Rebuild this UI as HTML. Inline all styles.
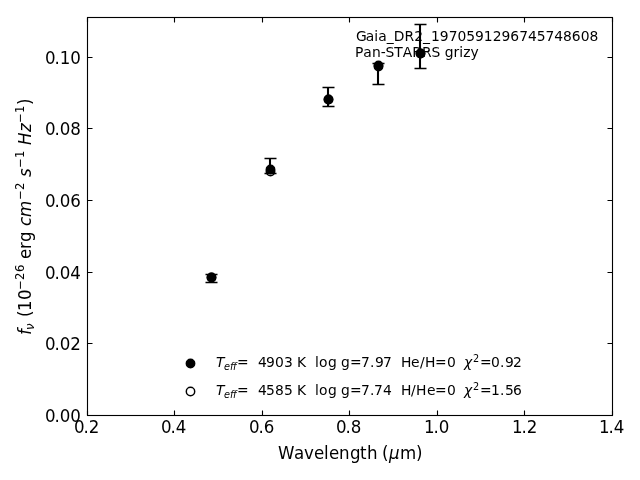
<!DOCTYPE html>
<html lang="en"><head><meta charset="utf-8"><title>Gaia_DR2_1970591296745748608 Pan-STARRS grizy</title>
<style>html,body{margin:0;padding:0;background:#fff;overflow:hidden}svg{display:block}text{font-family:"DejaVu Sans","Liberation Sans",sans-serif;fill:#000;white-space:pre}.i{font-style:oblique}</style></head><body>
<svg width="640" height="480" viewBox="0 0 640 480">
<rect width="640" height="480" fill="#fff"/>
<g id="base">
<g stroke="#000" fill="none">
<path d="M211.00 274.50V282.50" stroke-width="2.083"/>
<path d="M205.50 274.50H217.50M205.50 282.50H217.50" stroke-width="1.389"/>
<path d="M270.00 158.50V173.50" stroke-width="2.083"/>
<path d="M264.50 158.50H276.50M264.50 173.50H276.50" stroke-width="1.389"/>
<path d="M328.00 87.50V106.50" stroke-width="2.083"/>
<path d="M322.50 87.50H334.50M322.50 106.50H334.50" stroke-width="1.389"/>
<path d="M378.00 63.50V84.50" stroke-width="2.083"/>
<path d="M372.50 63.50H384.50M372.50 84.50H384.50" stroke-width="1.389"/>
<path d="M420.00 24.50V68.50" stroke-width="2.083"/>
<path d="M414.50 24.50H426.50M414.50 68.50H426.50" stroke-width="1.389"/>
</g>
<g stroke="#000" stroke-width="1.450">
<circle cx="211.50" cy="277.50" r="4.200" fill="#000"/>
<circle cx="270.50" cy="169.50" r="4.200" fill="#000"/>
<circle cx="328.50" cy="99.50" r="4.200" fill="#000"/>
<circle cx="378.50" cy="65.50" r="4.200" fill="#000"/>
<circle cx="420.50" cy="53.50" r="4.200" fill="#000"/>
<circle cx="190.50" cy="363.50" r="4.200" fill="#000"/>
<circle cx="211.50" cy="277.50" r="4.200" fill="none"/>
<circle cx="270.50" cy="171.50" r="4.200" fill="none"/>
<circle cx="328.50" cy="99.50" r="4.200" fill="none"/>
<circle cx="378.50" cy="66.50" r="4.200" fill="none"/>
<circle cx="420.50" cy="53.50" r="4.200" fill="none"/>
<circle cx="190.50" cy="391.50" r="4.200" fill="none"/>
</g>
<path d="M87.5 415.5v-5.00M87.5 17.5v5.00M174.5 415.5v-5.00M174.5 17.5v5.00M262.5 415.5v-5.00M262.5 17.5v5.00M349.5 415.5v-5.00M349.5 17.5v5.00M437.5 415.5v-5.00M437.5 17.5v5.00M524.5 415.5v-5.00M524.5 17.5v5.00M612.5 415.5v-5.00M612.5 17.5v5.00M87.5 415.5h5.00M612.5 415.5h-5.00M87.5 343.5h5.00M612.5 343.5h-5.00M87.5 272.5h5.00M612.5 272.5h-5.00M87.5 200.5h5.00M612.5 200.5h-5.00M87.5 128.5h5.00M612.5 128.5h-5.00M87.5 57.5h5.00M612.5 57.5h-5.00" stroke="#000" stroke-width="1.111" fill="none"/>
<rect x="87.5" y="17.5" width="525.0" height="398.0" fill="none" stroke="#000" stroke-width="1.111"/>
</g>
<g id="xt">
<g id="xt0"><text transform="translate(74 433) scale(1.0 1.04)" font-size="16.667" x="0 9.5 14.75" y="0">0.2</text></g>
<g id="xt1"><text transform="translate(161 433) scale(1.0 1.04)" font-size="16.667" x="0 9.5 14.75" y="0">0.4</text></g>
<g id="xt2"><text transform="translate(249 433) scale(1.0 1.04)" font-size="16.667" x="0 9.5 14.75" y="0">0.6</text></g>
<g id="xt3"><text transform="translate(336 433) scale(1.0 1.04)" font-size="16.667" x="0 9.5 14.75" y="0">0.8</text></g>
<g id="xt4"><text transform="translate(424 433) scale(1.0 1.04)" font-size="16.667" x="0 9.625 14.875" y="0">1.0</text></g>
<g id="xt5"><text transform="translate(512 433) scale(1.0 1.04)" font-size="16.667" x="0 9.625 14.875" y="0">1.2</text></g>
<g id="xt6"><text transform="translate(599 433) scale(1.0 1.04)" font-size="16.667" x="0 9.625 14.875" y="0">1.4</text></g>
</g>
<g id="yt">
<g id="yt0"><text transform="translate(45 422) scale(1.0 1.04)" font-size="16.667" x="0 9.5 14.75 25.25" y="0">0.00</text></g>
<g id="yt1"><text transform="translate(45 350) scale(1.0 1.04)" font-size="16.667" x="0 9.5 14.75 25.25" y="0">0.02</text></g>
<g id="yt2"><text transform="translate(45 279) scale(1.0 1.04)" font-size="16.667" x="0 9.5 14.75 25.25" y="0">0.04</text></g>
<g id="yt3"><text transform="translate(45 207) scale(1.0 1.04)" font-size="16.667" x="0 9.5 14.75 25.25" y="0">0.06</text></g>
<g id="yt4"><text transform="translate(45 135) scale(1.0 1.04)" font-size="16.667" x="0 9.5 14.75 25.25" y="0">0.08</text></g>
<g id="yt5"><text transform="translate(45 64) scale(1.0 1.04)" font-size="16.667" x="0 9.5 14.75 25.375" y="0">0.10</text></g>
</g>
<g id="xl"><text transform="translate(277 459) scale(1.0 1.04)"><tspan font-size="16.667" x="1 17 27 37 47 52 62 73 83 90 100 105" y="0">Wavelength (</tspan><tspan font-size="16.667" class="i" x="112" y="0">μ</tspan><tspan font-size="16.667" x="123 139" y="0">m)</tspan></text></g>
<g id="yl"><text transform="translate(31 336) rotate(-90) scale(1 1.04)"><tspan font-size="16.667" class="i" x="1" y="0">f</tspan><tspan font-size="11.667" class="i" x="6 13" y="2.885">ν </tspan><tspan font-size="16.667" x="19 25 36" y="0">(10</tspan><tspan font-size="11.667" x="46 56 64 72" y="-6.731">−26 </tspan><tspan font-size="16.667" x="77 87 94 104" y="0">erg </tspan><tspan font-size="16.667" class="i" x="110 119" y="0">cm</tspan><tspan font-size="11.667" x="136 146 154" y="-6.731">−2 </tspan><tspan font-size="16.667" class="i" x="159" y="0">s</tspan><tspan font-size="11.667" x="168 178 186" y="-6.731">−1 </tspan><tspan font-size="16.667" class="i" x="191 204" y="0">Hz</tspan><tspan font-size="11.667" x="213 223" y="-6.731">−1</tspan><tspan font-size="16.667" x="231" y="0">)</tspan></text></g>
<g id="a1"><text transform="translate(356 41) scale(1.0 1.03)" font-size="13.889" x="0 9.75 18.375 22.25 30.875 37.875 48.625 58.25 67 75 83.875 92.75 101.5 110.25 119 127.875 136.75 145.5 154.375 163.25 172 180.75 189.5 198.25 207 215.875 224.75 233.5" y="0">Gaia_DR2_1970591296745748608</text></g>
<g id="a2"><text transform="translate(355 57) scale(1.0 1.03)" font-size="13.889" x="0 8.375 17 25.75 30.625 39.375 47.859 57.359 66.984 76.609 85.359 89.734 98.609 104.359 108.234 115.609" y="0">Pan-STARRS grizy</text></g>
<g id="l1"><text transform="translate(215 367) scale(1.0 1.03)"><tspan font-size="13.889" class="i" x="1" y="0">T</tspan><tspan font-size="9.722" class="i" x="9 15 18" y="2.913">eff</tspan><tspan font-size="13.889" x="22 34 43 51 60 69 78 82 91 100 104 113 121 126 135 146 155 160 168 177 186 196 205 210 220 232 241" y="0">= 4903 K log g=7.97 He/H=0 </tspan><tspan font-size="13.889" class="i" x="249" y="0">χ</tspan><tspan font-size="9.722" x="258" y="-4.854">2</tspan><tspan font-size="13.889" x="265 276 285 290 298" y="0">=0.92</tspan></text></g>
<g id="l2"><text transform="translate(215 395) scale(1.0 1.03)"><tspan font-size="13.889" class="i" x="1" y="0">T</tspan><tspan font-size="9.722" class="i" x="9 15 18" y="2.913">eff</tspan><tspan font-size="13.889" x="22 34 43 51 60 69 78 82 91 100 104 113 121 126 135 146 155 159 168 177 186 196 201 212 220 232 241" y="0">= 4585 K log g=7.74 H/He=0 </tspan><tspan font-size="13.889" class="i" x="249" y="0">χ</tspan><tspan font-size="9.722" x="258" y="-4.854">2</tspan><tspan font-size="13.889" x="265 276 285 290 298" y="0">=1.56</tspan></text></g>
</svg></body></html>
